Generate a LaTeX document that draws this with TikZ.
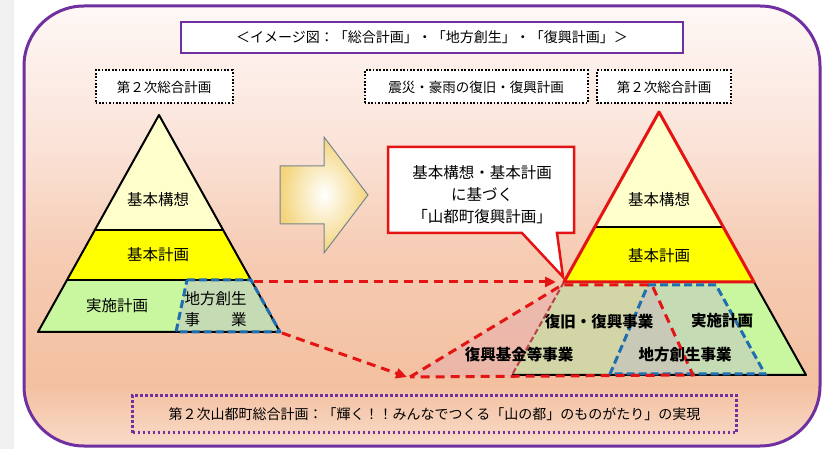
\documentclass[tikz,border=0pt]{standalone}
\usepackage{fontspec}
\setmainfont{Noto Sans CJK JP}
\usetikzlibrary{arrows.meta}
\definecolor{purp}{HTML}{7030A0}
\definecolor{redc}{HTML}{E41414}
\definecolor{bluec}{HTML}{1E6EB0}
\definecolor{ptop}{HTML}{FFFFCC}
\definecolor{pmid}{HTML}{FFFF00}
\definecolor{pbot}{HTML}{C9F7A0}
\definecolor{sousei}{HTML}{C0C0C8}
\definecolor{fukko}{HTML}{E0A8B0}
\definecolor{bgA}{HTML}{F9DAC8}
\definecolor{bgB}{HTML}{F3C0A0}
\definecolor{bgC}{HTML}{F6CCB4}
\definecolor{bgD}{HTML}{FAE1D5}
\definecolor{bgE}{HTML}{FEF8F6}
\definecolor{arrowedge}{HTML}{F4D47A}
\pgfdeclareverticalshading{bgshade}{100bp}{color(0bp)=(bgA); color(25bp)=(bgA); color(32bp)=(bgB); color(47bp)=(bgC); color(58bp)=(bgD); color(75bp)=(bgE); color(100bp)=(bgE)}
\begin{document}
\begin{tikzpicture}[x=1pt,y=-1pt,
  jp/.style={font=\fontsize{15.5}{18}\selectfont, inner sep=0pt},
  jpb/.style={font=\fontsize{15.5}{18}\selectfont\bfseries, inner sep=0pt},
  lbl/.style={font=\fontsize{13.5}{16}\selectfont, inner sep=0pt},
  dotbox/.style={draw=black, line width=2pt, dash pattern=on 1.7pt off 1.7pt, fill=white, minimum height=33pt, inner sep=0pt},
  reddash/.style={draw=redc, line width=3pt, dash pattern=on 9pt off 6pt},
  bluedash/.style={draw=bluec, line width=3pt, dash pattern=on 8pt off 4pt},
  edge/.style={draw=black, line width=2pt, line join=round},
  redtip/.style={-{Triangle[length=11pt,width=10pt]}},
]
\useasboundingbox (0,0) rectangle (831,449);
\fill[black!6] (0,0) rectangle (14,449);
% outer frame
\path[shading=bgshade, rounded corners=60pt] (24,6) rectangle (820,446);
\draw[purp, line width=3pt, rounded corners=60pt] (24,6) rectangle (820,446);

% headers
\node[draw=purp, line width=2pt, fill=white, minimum width=502pt, minimum height=31pt, inner sep=0pt,
  font=\fontsize{14}{16}\selectfont] (title) at (432,37.5) {＜イメージ図：「総合計画」・「地方創生」・「復興計画」＞};
\node[dotbox, lbl, minimum width=137pt, minimum height=33pt] (hL) at (164,87) {第２次総合計画};
\node[dotbox, lbl, minimum width=223pt, minimum height=33pt] (hM) at (476,87) {震災・豪雨の復旧・復興計画};
\node[dotbox, lbl, minimum width=134pt, minimum height=33pt] (hR) at (664,87) {第２次総合計画};

% ---------- left pyramid ----------
\coordinate (LA) at (159,115);
\coordinate (L1l) at (94.8,230); \coordinate (L1r) at (223.2,230);
\coordinate (L2l) at (67,280);   \coordinate (L2r) at (251,280);
\coordinate (LBL) at (38,332);   \coordinate (LBR) at (280,332);
\coordinate (LSa) at (187,280);  \coordinate (LSb) at (176,332);
\fill[ptop] (LA) -- (L1r) -- (L1l) -- cycle;
\fill[pmid] (L1l) -- (L1r) -- (L2r) -- (L2l) -- cycle;
\fill[pbot] (L2l) -- (L2r) -- (LBR) -- (LBL) -- cycle;
\fill[sousei, fill opacity=0.5] (LSa) -- (L2r) -- (LBR) -- (LSb) -- cycle;
\draw[edge] (LA) -- (LBR) -- (LBL) -- cycle;
\draw[edge] (L1l) -- (L1r);
\draw[edge] (L2l) -- (L2r);
\draw[bluedash, line join=round] (LSa) -- (L2r) -- (LBR) -- (LSb) -- cycle;
\node[jp] (lk1) at (158,200) {基本構想};
\node[jp] (lk2) at (158,255) {基本計画};
\node[jp] (lk3) at (117,306) {実施計画};
\node[jp] (lk4) at (215.5,299) {地方創生};
\node[jp] (lk5) at (215.5,320) {事　　業};

% ---------- big arrow ----------
\path[draw=black!50!cyan!40!gray, line width=1pt, shading=radial, inner color=white, outer color=arrowedge]
  (280,166) -- (324,166) -- (324,137) -- (368,195) -- (324,253) -- (324,224) -- (280,224) -- cycle;

% ---------- right pyramid ----------
\coordinate (RA) at (659,112);
\coordinate (R1l) at (594.7,227); \coordinate (R1r) at (723.3,227);
\coordinate (R2l) at (564,282);   \coordinate (R2r) at (754,282);
\coordinate (RBL) at (512,375);   \coordinate (RBR) at (806,375);
\coordinate (Q1) at (410,377); \coordinate (Q0) at (562,285);
\coordinate (Q2) at (652,285); \coordinate (Q3) at (693,375);
\coordinate (B1) at (648,285); \coordinate (B2) at (716,285);
\coordinate (B3) at (765,374); \coordinate (B4) at (610,374);
\fill[ptop] (RA) -- (R1r) -- (R1l) -- cycle;
\fill[pmid] (R1l) -- (R1r) -- (R2r) -- (R2l) -- cycle;
\fill[pbot] (R2l) -- (R2r) -- (RBR) -- (RBL) -- cycle;
\fill[fukko, fill opacity=0.42] (Q1) -- (Q0) -- (Q2) -- (Q3) -- cycle;
\fill[sousei, fill opacity=0.5] (B1) -- (B2) -- (B3) -- (B4) -- cycle;
\draw[edge] (R2r) -- (RBR) -- (RBL);
\draw[black, line width=1.5pt] (R1l) -- (R1r);
\draw[redc!55!gray, line width=2pt, dash pattern=on 6pt off 3pt] (R2l) -- (RBL);
\draw[redc, line width=3pt, line join=round] (RA) -- (R2r) -- (R2l) -- cycle;
\draw[bluedash] (B1) -- (B2) -- (B3) -- (B4) -- cycle;
\draw[reddash] (Q1) -- (Q0) -- (Q2) -- (Q3) -- cycle;
\node[jp] (rk1) at (659,200) {基本構想};
\node[jp] (rk2) at (659,256) {基本計画};
\node[jpb] (rk3) at (599,322) {復旧・復興事業};
\node[jpb] (rk4) at (722,321) {実施計画};
\node[jpb] (rk5) at (519,355) {復興基金等事業};
\node[jpb] (rk6) at (685,355) {地方創生事業};

% ---------- callout ----------
\draw[redc, line width=2.5pt, fill=white, line join=miter]
  (388,147) -- (574,147) -- (574,233) -- (557,233) -- (563,277) -- (522,233) -- (388,233) -- cycle;
\node[jp, align=center, font=\fontsize{15.5}{22}\selectfont] (co) at (482,195) {基本構想・基本計画\\に基づく\\「山都町復興計画」};

% ---------- connectors ----------
\coordinate (A1s) at (254,282); \coordinate (A1e) at (556,282);
\coordinate (A2s) at (282,333); \coordinate (A2e) at (407,377);
\draw[reddash, redtip] (A1s) -- (A1e);
\draw[reddash, redtip] (A2s) -- (A2e);

% ---------- bottom box ----------
\node[draw=purp, line width=2.5pt, dash pattern=on 2.5pt off 2.5pt, minimum width=604pt, minimum height=37pt, inner sep=0pt,
  font=\fontsize{14}{16}\selectfont] (goal) at (434.5,414) {第２次山都町総合計画：「輝く！！みんなでつくる「山の都」のものがたり」の実現};
\end{tikzpicture}
\end{document}
